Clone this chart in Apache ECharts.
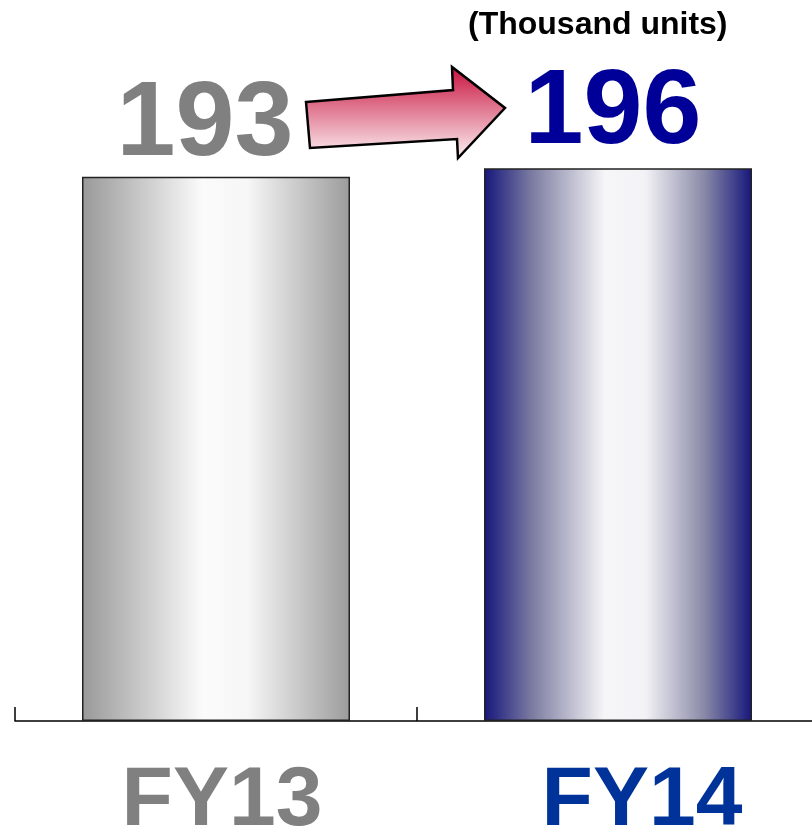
<!DOCTYPE html>
<html>
<head>
<meta charset="utf-8">
<script src="https://cdn.jsdelivr.net/npm/echarts@6/dist/echarts.min.js"></script>
<style>
  html, body { margin: 0; padding: 0; background: #fff; overflow: hidden; }
  #chart { width: 812px; height: 827px; }
</style>
</head>
<body>
<div id="chart"></div>
<script>
// Unit sales by fiscal year (thousand units)
const categories = ['FY13', 'FY14'];
const values = [193, 196];
const unitNote = '(Thousand units)';

const FONT = '"Liberation Sans", Arial, sans-serif';
const catColors = ['#808080', '#003399'];
const valueColors = ['#808080', '#000099'];
// small horizontal nudges of the text relative to each bar
const catPadLeft = [12, 48];
const valueShift = [[-11, 2], [-5, -2]];

// Cylinder-like horizontal shading for each bar
const barFills = [
  new echarts.graphic.LinearGradient(0, 0, 1, 0, [
    { offset: 0, color: '#999999' },
    { offset: 0.2, color: '#c4c4c4' },
    { offset: 0.45, color: '#fbfbfb' },
    { offset: 0.62, color: '#f6f6f6' },
    { offset: 0.82, color: '#c6c6c6' },
    { offset: 1, color: '#9c9c9c' }
  ]),
  new echarts.graphic.LinearGradient(0, 0, 1, 0, [
    { offset: 0, color: '#16167c' },
    { offset: 0.18, color: '#7c7ca2' },
    { offset: 0.45, color: '#f6f6f8' },
    { offset: 0.6, color: '#f3f3f7' },
    { offset: 0.82, color: '#8a8aa8' },
    { offset: 1, color: '#16167c' }
  ])
];

const chart = echarts.init(document.getElementById('chart'), null, { renderer: 'canvas' });

chart.setOption({
  animation: false,
  backgroundColor: '#ffffff',
  grid: {
    left: 15, right: -7, top: 16, bottom: 106,
    containLabel: false,
    outerBoundsMode: 'none'
  },
  xAxis: {
    type: 'category',
    data: categories.map((c, i) => ({
      value: c,
      textStyle: { color: catColors[i], padding: [0, 0, 0, catPadLeft[i]] }
    })),
    axisLine: { lineStyle: { color: '#000', width: 1.5 } },
    axisTick: { show: true, inside: true, length: 14, lineStyle: { color: '#000', width: 1.5 } },
    axisLabel: {
      fontFamily: FONT,
      fontWeight: 'bold',
      fontSize: 84,
      margin: 39
    }
  },
  yAxis: {
    type: 'value',
    min: 0,
    max: 250,
    show: false,
    splitLine: { show: false }
  },
  series: [{
    type: 'bar',
    barWidth: 268,
    data: values.map((v, i) => ({
      value: v,
      itemStyle: { color: barFills[i], borderColor: '#222', borderWidth: 1.5 },
      label: { color: valueColors[i], offset: valueShift[i] }
    })),
    label: {
      show: true,
      position: 'top',
      distance: 0,
      fontFamily: FONT,
      fontWeight: 'bold',
      fontSize: 106
    }
  }],
  graphic: [
    {
      type: 'text',
      left: 468,
      top: 9,
      style: {
        text: unitNote,
        fontFamily: FONT,
        fontWeight: 'bold',
        fontSize: 32,
        fill: '#000'
      }
    },
    {
      // Growth arrow from FY13 to FY14
      type: 'polygon',
      shape: {
        points: [[306, 102], [453, 90], [452, 67], [505, 108], [458, 158], [457, 139], [310, 148]]
      },
      style: {
        fill: new echarts.graphic.LinearGradient(0, 0, 0, 1, [
          { offset: 0, color: '#c8103c' },
          { offset: 1, color: '#fdf4f6' }
        ]),
        stroke: '#000',
        lineWidth: 2.5,
        lineJoin: 'miter'
      }
    }
  ]
});
</script>
</body>
</html>
